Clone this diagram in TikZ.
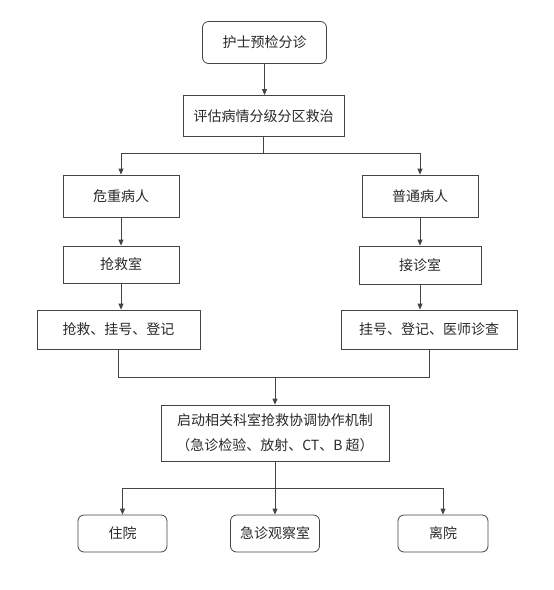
\documentclass[tikz,border=0pt]{standalone}
\usepackage{fontspec}
\newfontfamily\cjk{Noto Sans CJK SC}
\usetikzlibrary{positioning, arrows.meta, calc}

\definecolor{linegray}{HTML}{444444}
\definecolor{textgray}{HTML}{2A2A2A}

\begin{document}
\begin{tikzpicture}[
        x=1pt, y=-1pt,
        box/.style={draw=linegray, line width=0.8pt, fill=white, inner sep=0pt,
            font=\cjk\fontsize{14}{25}\selectfont, text=textgray, align=center},
        roundbox/.style={box, rounded corners=6pt},
        link/.style={draw=linegray, line width=0.8pt, -{Triangle[width=5pt, length=6pt]}},
        joint/.style={draw=linegray, line width=0.8pt}
    ]
        \useasboundingbox (0,0) rectangle (554,590);

        % Triage and assessment
        \node[roundbox, minimum width=124pt, minimum height=42pt] (triage) at (264.5, 42.5) {护士预检分诊};
        \node[box, minimum width=161pt, minimum height=41pt] (assess) at (263.5, 116) {评估病情分级分区救治};

        % Critical patients (left)
        \node[box, minimum width=116pt, minimum height=42pt] (critical) at (121, 196) {危重病人};
        \node[box, minimum width=116pt, minimum height=37pt] (rescue) at (121, 264.5) {抢救室};
        \node[box, minimum width=163pt, minimum height=39pt] (rescuereg) at (118.5, 329.5) {抢救、挂号、登记};

        % Normal patients (right)
        \node[box, minimum width=116pt, minimum height=42pt] (normal) at (420, 196) {普通病人};
        \node[box, minimum width=122pt, minimum height=38pt] (clinic) at (420, 265) {接诊室};
        \node[box, minimum width=176pt, minimum height=39pt] (normreg) at (429, 329.5) {挂号、登记、医师诊查};

        % Coordination
        \node[box, minimum width=228pt, minimum height=56pt] (coord) at (275, 433)
            {启动相关科室抢救协调协作机制\\（急诊检验、放射、CT、B 超）};

        % Outcomes
        \node[roundbox, minimum width=89pt, minimum height=37pt] (admit) at (122.5, 533.5) {住院};
        \node[roundbox, minimum width=89pt, minimum height=37pt] (observe) at (275, 533.5) {急诊观察室};
        \node[roundbox, minimum width=90pt, minimum height=37pt] (discharge) at (443, 533.5) {离院};

        % Junction points
        \coordinate (split) at (263.5, 153);
        \coordinate (merge) at (275, 377);
        \coordinate (fork) at (275, 488);

        % Connections
        \draw[link] (triage) -- (triage |- assess.north);
        \draw[joint] (assess.south) -- (split);
        \draw[link] (split) -| (critical.north);
        \draw[link] (split) -| (normal.north);
        \draw[link] (critical) -- (rescue);
        \draw[link] (rescue) -- (rescue |- rescuereg.north);
        \draw[link] (normal) -- (clinic);
        \draw[link] (clinic) -- (clinic |- normreg.north);
        \draw[joint] (rescuereg.south) |- (merge);
        \draw[joint] (normreg.south) |- (merge);
        \draw[link] (merge) -- (coord.north);
        \draw[joint] (coord.south) -- (fork);
        \draw[link] (fork) -| (admit.north);
        \draw[link] (fork) -- (observe.north);
        \draw[link] (fork) -| (discharge.north);
    \end{tikzpicture}
\end{document}
